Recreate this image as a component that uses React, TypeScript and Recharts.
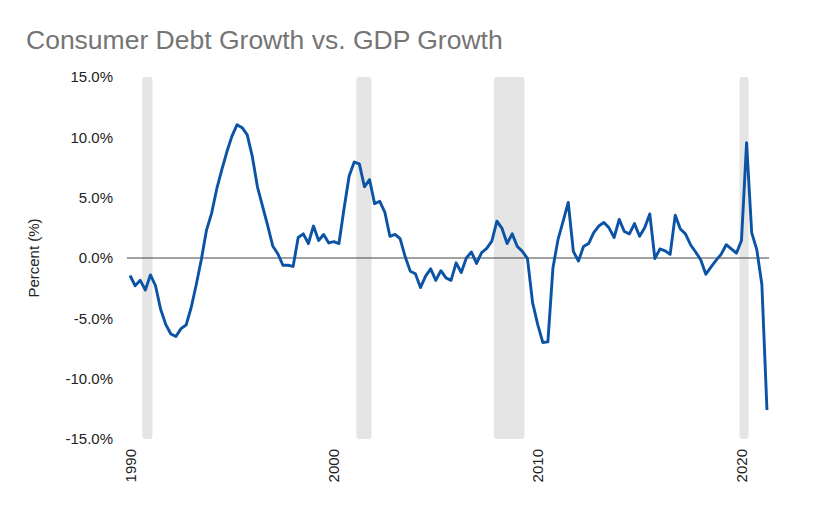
import React from 'react';
import { LineChart, Line, XAxis, YAxis, ReferenceArea, ReferenceLine } from 'recharts';

// quarterly consumer debt growth less GDP growth, 1990Q1 .. 2021Q2
const startYear = 1990;
const growth = [
  -1.45, -2.3, -1.85, -2.65, -1.4, -2.3, -4.25, -5.5, -6.3, -6.5,
  -5.85, -5.55, -4.1, -2.2, -0.1, 2.3, 3.7, 5.7, 7.3, 8.8,
  10.1, 11.05, 10.8, 10.2, 8.4, 5.9, 4.3, 2.7, 1.0, 0.35,
  -0.6, -0.6, -0.7, 1.7, 2.0, 1.2, 2.65, 1.45, 1.95, 1.25,
  1.35, 1.2, 4.1, 6.8, 7.95, 7.8, 5.9, 6.5, 4.5, 4.7,
  3.8, 1.8, 1.95, 1.6, 0.1, -1.1, -1.3, -2.45, -1.5, -0.9,
  -1.85, -1.05, -1.65, -1.85, -0.4, -1.2, 0.0, 0.5, -0.45, 0.45,
  0.8, 1.4, 3.05, 2.45, 1.2, 2.0, 0.95, 0.55, -0.05, -3.7,
  -5.5, -7.0, -6.95, -0.8, 1.55, 3.05, 4.6, 0.55, -0.25, 0.95,
  1.2, 2.1, 2.65, 2.95, 2.5, 1.7, 3.2, 2.2, 2.0, 2.85,
  1.8, 2.5, 3.65, -0.05, 0.75, 0.6, 0.3, 3.55, 2.4, 2.0,
  1.1, 0.5, -0.15, -1.35, -0.75, -0.2, 0.3, 1.1, 0.75, 0.4,
  1.45, 9.55, 2.1, 0.7, -2.2, -12.6,
];

// recession shading (decimal years)
const recessionStart = [1990.6, 2001.1, 2007.85, 2019.9];
const recessionEnd = [1991.1, 2001.85, 2009.35, 2020.35];

const yTicks = [-15, -10, -5, 0, 5, 10, 15];
const xTicks = [1990, 2000, 2010, 2020];

const data = growth.map((v, i) => ({ t: startYear + i / 4, v }));

const FONT = '"Liberation Sans", Arial, sans-serif';

function YearTick({ x, y, payload }: any) {
  return (
    <text
      x={x}
      y={y}
      transform={`rotate(-90, ${x}, ${y})`}
      textAnchor="end"
      dominantBaseline="central"
      fontSize={15}
      fontFamily={FONT}
      fill="#222"
    >
      {payload.value}
    </text>
  );
}

function AxisTitle({ viewBox }: any) {
  const cx = viewBox.x + 33;
  const cy = viewBox.y + viewBox.height / 2;
  return (
    <text
      x={cx}
      y={cy}
      transform={`rotate(-90, ${cx}, ${cy})`}
      textAnchor="middle"
      dominantBaseline="central"
      fontSize={15}
      fontFamily={FONT}
      fill="#222"
    >
      Percent (%)
    </text>
  );
}

export default function App() {
  return (
    <div style={{ position: 'absolute', left: 0, top: 0, width: 825, height: 510, background: '#fff' }}>
      <div
        style={{
          position: 'absolute',
          left: 26,
          top: 27,
          fontFamily: FONT,
          fontSize: 26.5,
          lineHeight: '26px',
          color: '#757575',
          whiteSpace: 'nowrap',
        }}
      >
        Consumer Debt Growth vs. GDP Growth
      </div>
      <LineChart width={825} height={510} data={data} margin={{ top: 77, right: 56, bottom: 21, left: 0 }}>
        <XAxis
          dataKey="t"
          type="number"
          domain={[1989.85, 2021.35]}
          ticks={xTicks}
          allowDataOverflow
          axisLine={false}
          tickLine={false}
          tickMargin={4}
          height={50}
          tick={<YearTick />}
        />
        <YAxis
          domain={[-15, 15]}
          ticks={yTicks}
          width={127}
          axisLine={false}
          tickLine={false}
          tickMargin={8}
          tickFormatter={(v: number) => `${v.toFixed(1)}%`}
          tick={{ fontSize: 15, fontFamily: FONT, fill: '#222' }}
          label={<AxisTitle />}
        />
        {recessionStart.map((s, i) => (
          <ReferenceArea
            key={`rec-${i}`}
            x1={s}
            x2={recessionEnd[i]}
            y1={-15}
            y2={15}
            fill="#e5e5e5"
            fillOpacity={1}
            stroke="none"
            radius={3}
          />
        ))}
        <ReferenceLine y={0} stroke="#444" strokeWidth={1.2} />
        <Line
          type="linear"
          dataKey="v"
          stroke="#0b53a5"
          strokeWidth={2.9}
          strokeLinejoin="round"
          dot={false}
          isAnimationActive={false}
        />
      </LineChart>
    </div>
  );
}
